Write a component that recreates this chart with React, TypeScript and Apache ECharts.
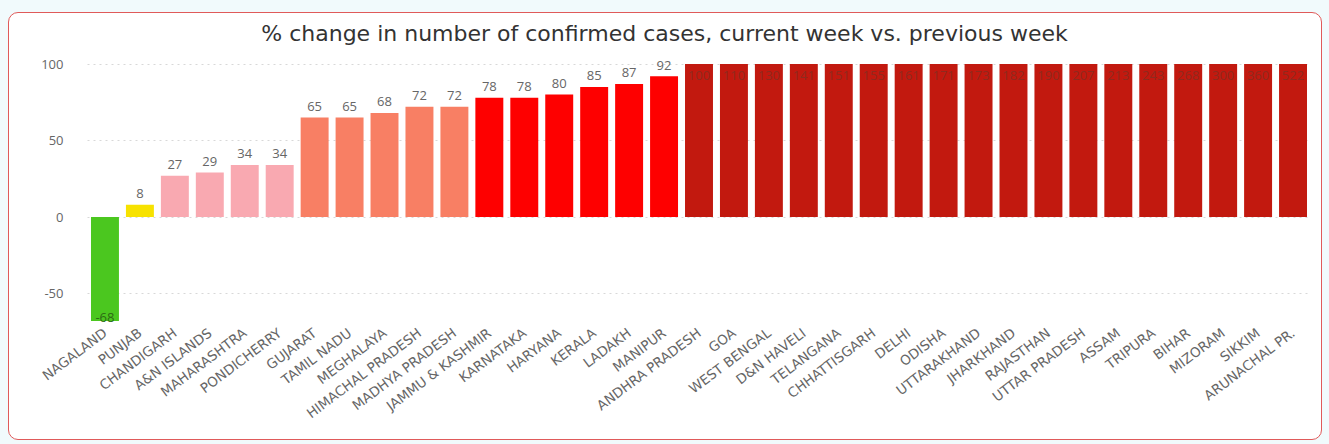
import React, { useEffect, useRef } from "react";
import * as echarts from "echarts";

const categories = [
  "NAGALAND", "PUNJAB", "CHANDIGARH", "A&N ISLANDS", "MAHARASHTRA", "PONDICHERRY",
  "GUJARAT", "TAMIL NADU", "MEGHALAYA", "HIMACHAL PRADESH", "MADHYA PRADESH",
  "JAMMU & KASHMIR", "KARNATAKA", "HARYANA", "KERALA", "LADAKH", "MANIPUR",
  "ANDHRA PRADESH", "GOA", "WEST BENGAL", "D&N HAVELI", "TELANGANA", "CHHATTISGARH",
  "DELHI", "ODISHA", "UTTARAKHAND", "JHARKHAND", "RAJASTHAN", "UTTAR PRADESH",
  "ASSAM", "TRIPURA", "BIHAR", "MIZORAM", "SIKKIM", "ARUNACHAL PR.",
];

const pctChange = [
  -68, 8, 27, 29, 34, 34, 65, 65, 68, 72, 72, 78, 78, 80, 85, 87, 92,
  100, 110, 130, 141, 151, 155, 161, 171, 173, 182, 190, 207, 213, 243, 268, 300, 360, 522,
];

const yTicks = [-50, 0, 50, 100];
const yMin = -68;
const yMax = 100;

function colorFor(v: number): string {
  if (v < 0) return "#4bc71f";
  if (v < 20) return "#f7e200";
  if (v < 50) return "#f9a9b1";
  if (v < 75) return "#f87f64";
  if (v < 100) return "#fe0000";
  return "#c2190f";
}

export default function App() {
  const ref = useRef<HTMLDivElement>(null);

  useEffect(() => {
    if (!ref.current) return;
    const chart = echarts.init(ref.current, undefined, { renderer: "svg" });
    const font = "'Open Sans', 'DejaVu Sans', sans-serif";
    chart.setOption({
      animation: false,
      title: {
        text: "% change in number of confirmed cases, current week vs. previous week",
        left: "center",
        top: 17,
        textStyle: { fontFamily: "'DejaVu Sans', sans-serif", fontSize: 22, fontWeight: "normal", color: "#333" },
      },
      grid: { left: 87.5, right: 18.5, top: 64, bottom: 123, containLabel: false },
      xAxis: {
        type: "category",
        data: categories,
        axisLine: { show: false },
        axisTick: { show: false },
        axisLabel: {
          rotate: 37,
          interval: 0,
          margin: 10,
          fontFamily: "'DejaVu Sans', sans-serif",
          fontSize: 13.5,
          color: "#666",
        },
      },
      yAxis: {
        type: "value",
        min: yMin,
        max: yMax,
        axisLine: { show: false },
        axisTick: { show: false, customValues: yTicks },
        axisLabel: {
          customValues: yTicks,
          margin: 24,
          fontFamily: font,
          fontSize: 13,
          color: "#666",
        },
        splitLine: {
          show: true,
          lineStyle: { type: [2, 4], color: "#d8d8d8", width: 1 },
        },
      },
      series: [
        {
          type: "bar",
          barCategoryGap: "20%",
          data: pctChange.map((v) => ({
            value: Math.min(v, yMax),
            realValue: v,
            itemStyle: { color: colorFor(v) },
            label:
              v < 0
                ? { show: true, position: "insideBottom", color: "#2d6a14", distance: -2 }
                : v >= 100
                ? { show: true, position: "insideTop", color: "#8f2a1e", distance: 4 }
                : { show: true, position: "top", color: "#666", distance: 5 },
          })),
          label: {
            show: true,
            fontFamily: font,
            fontSize: 13,
            formatter: (p: any) => String(p.data.realValue),
          },
        },
      ],
    });
    return () => chart.dispose();
  }, []);

  return (
    <div
      style={{
        position: "fixed",
        left: 0,
        top: 0,
        width: 1329,
        height: 444,
        background: "#f1fafc",
      }}
    >
      <div
        style={{
          position: "absolute",
          left: 8,
          top: 12,
          width: 1312,
          height: 426,
          border: "1px solid #e05a5a",
          borderRadius: 10,
          background: "#fff",
        }}
      />
      <div ref={ref} style={{ position: "absolute", left: 0, top: 0, width: 1329, height: 444 }} />
    </div>
  );
}
